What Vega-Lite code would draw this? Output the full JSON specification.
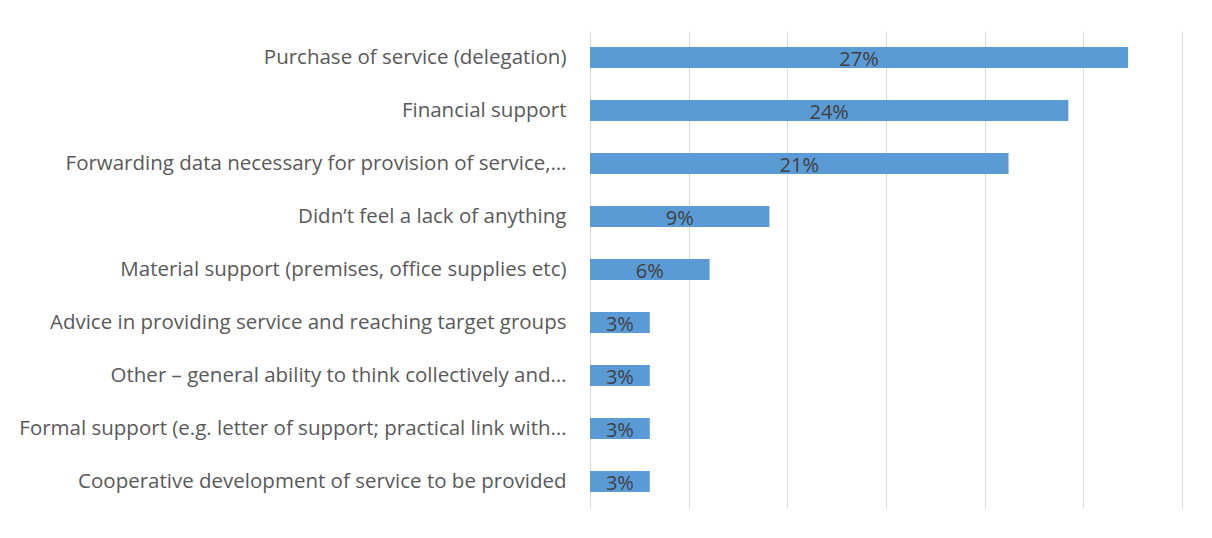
{
  "$schema": "https://vega.github.io/schema/vega-lite/v6.json",
  "width": 592,
  "height": 477,
  "autosize": "none",
  "padding": {"left": 590, "top": 31, "right": 30, "bottom": 30},
  "background": "white",
  "config": {"view": {"stroke": null}, "font": "Open Sans"},
  "data": {
    "values": [
      {"category": "Purchase of service (delegation)", "value": 0.2727},
      {"category": "Financial support", "value": 0.2424},
      {"category": "Forwarding data necessary for provision of service,…", "value": 0.2121},
      {"category": "Didn’t feel a lack of anything", "value": 0.0909},
      {"category": "Material support  (premises, office supplies etc)", "value": 0.0606},
      {"category": "Advice in providing service and reaching target groups", "value": 0.0303},
      {"category": "Other – general ability to think collectively and…", "value": 0.0303},
      {"category": "Formal support (e.g. letter of support; practical link with…", "value": 0.0303},
      {"category": "Cooperative development of service to be provided", "value": 0.0303}
    ]
  },
  "transform": [{"calculate": "datum.value / 2", "as": "mid"}],
  "encoding": {
    "y": {
      "field": "category",
      "type": "nominal",
      "sort": null,
      "scale": {"paddingInner": 0.6, "paddingOuter": 0.3},
      "axis": {
        "title": null,
        "domain": false,
        "ticks": false,
        "labelPadding": 24,
        "labelLimit": 800,
        "labelFontSize": 20.5,
        "labelColor": "#595959",
        "labelFont": "Open Sans"
      }
    }
  },
  "layer": [
    {
      "mark": {"type": "bar", "color": "#5B9BD5"},
      "encoding": {
        "x": {
          "field": "value",
          "type": "quantitative",
          "scale": {"domain": [0, 0.3], "nice": false},
          "axis": {
            "title": null,
            "labels": false,
            "ticks": false,
            "domain": false,
            "grid": true,
            "gridColor": "#d9d9d9",
            "gridWidth": 1,
            "values": [0, 0.05, 0.1, 0.15, 0.2, 0.25, 0.3]
          }
        }
      }
    },
    {
      "mark": {"type": "text", "fontSize": 20, "color": "#404040", "font": "Open Sans", "baseline": "middle", "dy": 2},
      "encoding": {
        "x": {"field": "mid", "type": "quantitative"},
        "text": {"field": "value", "type": "quantitative", "format": ".0%"}
      }
    }
  ]
}
